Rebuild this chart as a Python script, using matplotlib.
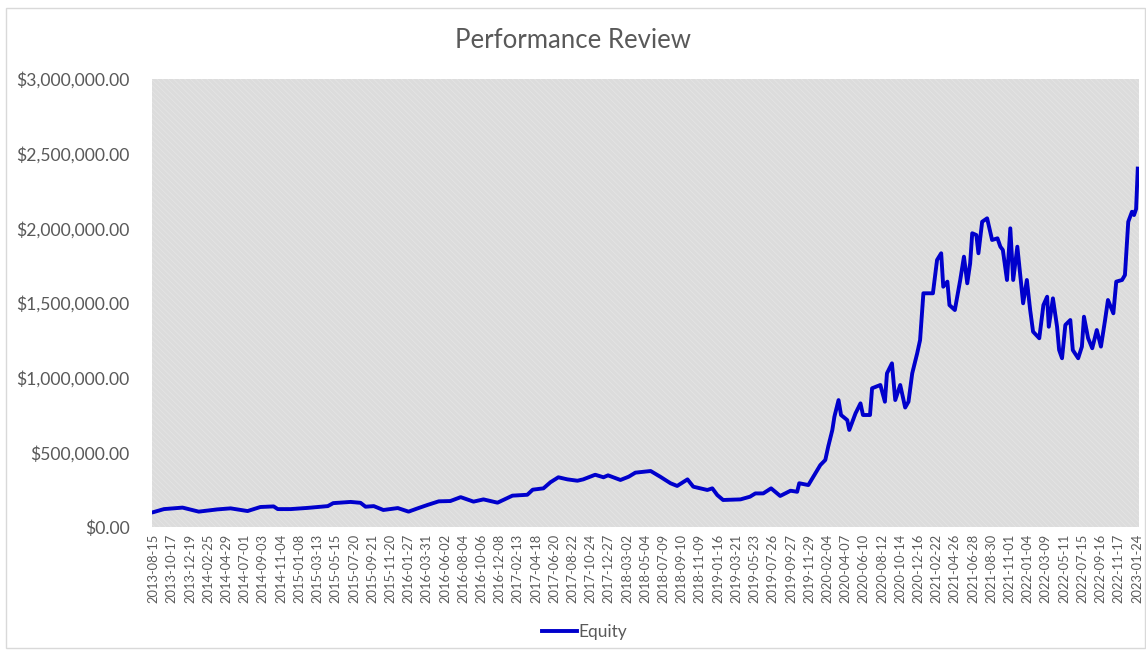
import matplotlib
matplotlib.use("Agg")
import matplotlib.pyplot as plt
from matplotlib.patches import Rectangle
from matplotlib.ticker import FuncFormatter
import numpy as np

# x-axis date labels (every 44 trading days)
tick_labels = [
    "2013-08-15", "2013-10-17", "2013-12-19", "2014-02-25", "2014-04-29", "2014-07-01",
    "2014-09-03", "2014-11-04", "2015-01-08", "2015-03-13", "2015-05-15", "2015-07-20",
    "2015-09-21", "2015-11-20", "2016-01-27", "2016-03-31", "2016-06-02", "2016-08-04",
    "2016-10-06", "2016-12-08", "2017-02-13", "2017-04-18", "2017-06-20", "2017-08-22",
    "2017-10-24", "2017-12-27", "2018-03-02", "2018-05-04", "2018-07-09", "2018-09-10",
    "2018-11-09", "2019-01-16", "2019-03-21", "2019-05-23", "2019-07-26", "2019-09-27",
    "2019-11-29", "2020-02-04", "2020-04-07", "2020-06-10", "2020-08-12", "2020-10-14",
    "2020-12-16", "2021-02-22", "2021-04-26", "2021-06-28", "2021-08-30", "2021-11-01",
    "2022-01-04", "2022-03-09", "2022-05-11", "2022-07-15", "2022-09-16", "2022-11-17",
    "2023-01-24",
]
tick_step = 44

# trading-day index and equity (thousands of $)
day_idx = [
    0, 25, 70, 109, 154, 186, 227, 258, 290, 300, 331, 372, 421, 434, 476, 500, 512, 532,
    555, 590, 616, 638, 661, 689, 717, 742, 773, 797, 831, 867, 903, 916, 942, 959, 978,
    1000, 1024, 1038, 1067, 1087, 1098, 1128, 1148, 1164, 1201, 1224, 1249, 1265, 1290,
    1304, 1338, 1350, 1362, 1376, 1418, 1441, 1454, 1473, 1492, 1514, 1539, 1555, 1560,
    1582, 1594, 1611, 1623, 1630, 1640, 1645, 1655, 1661, 1676, 1681, 1696, 1708, 1714,
    1731, 1736, 1756, 1767, 1772, 1784, 1792, 1804, 1816, 1824, 1833, 1845, 1852, 1860,
    1883, 1893, 1903, 1908, 1918, 1923, 1936, 1949, 1958, 1966, 1973, 1978, 1988, 1993,
    2002, 2014, 2026, 2039, 2046, 2052, 2062, 2070, 2077, 2087, 2092, 2101, 2110, 2118,
    2125, 2140, 2150, 2159, 2163, 2173, 2183, 2188, 2195, 2203, 2215, 2221, 2234, 2243,
    2248, 2258, 2268, 2279, 2289, 2299, 2306, 2319, 2326, 2340, 2347, 2355, 2364, 2369,
    2374, 2378,
]
equity_k = [
    100, 120, 130, 103, 118, 125, 107, 134, 138, 120, 120, 128, 140, 160, 168, 162, 136, 140,
    114, 127, 103, 125, 147, 172, 174, 200, 170, 185, 163, 210, 216, 250, 259, 300, 333,
    319, 310, 319, 350, 333, 346, 315, 337, 364, 375, 337, 293, 275, 319,
    270, 248, 259, 214, 181, 185, 203, 225, 225, 259, 208, 243, 236, 293,
    281, 337, 415, 449, 538, 650, 739, 850, 750, 716, 650, 761, 828, 750,
    750, 929, 951, 839, 1029, 1096, 850, 951, 800, 839, 1029, 1163, 1252, 1565,
    1565, 1788, 1833, 1609, 1643, 1486, 1453, 1654, 1810, 1632, 1766, 1967, 1955, 1833,
    2044, 2067, 1922, 1933, 1877, 1855, 1654, 2000, 1654, 1877, 1743, 1498, 1654, 1453,
    1308, 1264, 1486, 1542, 1341, 1531, 1341, 1185, 1130, 1353, 1386, 1185, 1130, 1208,
    1408, 1264, 1197, 1319, 1208, 1386, 1520, 1431, 1643, 1654, 1687, 2044, 2111, 2089,
    2130, 2400,
]
equity = np.array(equity_k) * 1000.0

text_color = "#595959"
plt.rcParams["font.family"] = ["Lato", "DejaVu Sans"]
plt.rcParams["hatch.linewidth"] = 0.6

fig = plt.figure(figsize=(11.46, 6.5), dpi=100)
ax = fig.add_axes([0.1326, 0.1892, 0.8613, 0.6893])

# chart border
fig.patches.append(Rectangle((6 / 1146, 2 / 650), 1139 / 1146, 640 / 650,
                             transform=fig.transFigure, fill=False,
                             edgecolor="#d9d9d9", linewidth=1))

# hatched grey plot area
ax.set_facecolor("#dcdcdc")
ax.add_patch(Rectangle((0, 0), 1, 1, transform=ax.transAxes, facecolor="none",
                       edgecolor="#e4e4e4", hatch="\\\\\\\\\\\\", linewidth=0, zorder=0))

ax.plot(day_idx, equity, color="#0000cc", linewidth=2.8, label="Equity",
        solid_joinstyle="round", zorder=3)

ax.set_xlim(-4, 2381)
ax.set_ylim(0, 3000000)
ax.set_yticks(np.arange(0, 3000001, 500000))
ax.yaxis.set_major_formatter(FuncFormatter(lambda v, p: "${:,.2f}".format(v)))
ax.set_xticks(np.arange(len(tick_labels)) * tick_step)
ax.set_xticklabels(tick_labels, rotation=90)

ax.tick_params(axis="y", length=0, pad=16, labelsize=12.6, labelcolor=text_color)
ax.tick_params(axis="x", length=0, pad=5, labelsize=9.3, labelcolor=text_color)
for s in ax.spines.values():
    s.set_visible(False)

fig.text(0.5, 0.938, "Performance Review", ha="center", va="center",
         fontsize=18.5, color=text_color)

fig.legend(loc="center", bbox_to_anchor=(0.51, 0.028), frameon=False,
           handlelength=2.0, handletextpad=0.1, fontsize=12.5, labelcolor=text_color)

fig.savefig("out.png", dpi=100)
